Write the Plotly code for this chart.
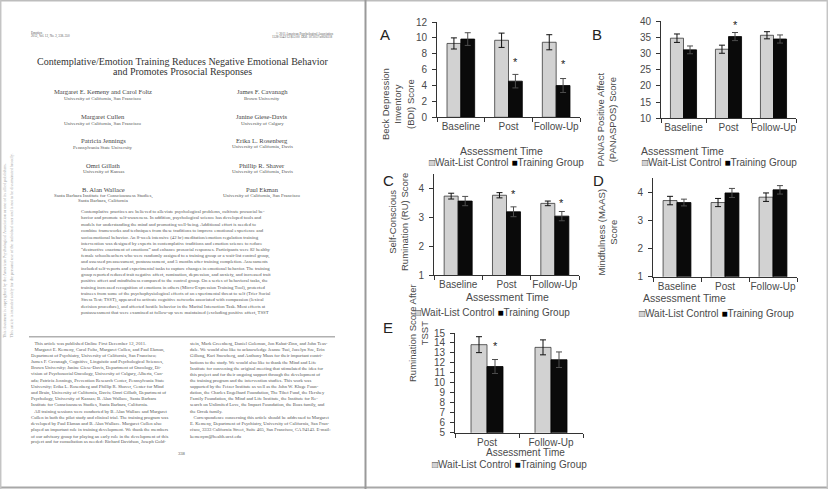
import plotly.graph_objects as go

W, H = 828, 489

# ---------------- data ----------------
cats3 = ["Baseline", "Post", "Follow-Up"]
cats2 = ["Post", "Follow-Up"]
series_names = ["Wait-List Control", "Training Group"]

bdi_control = [9.3, 9.7, 9.45]
bdi_control_err = [0.7, 0.9, 0.95]
bdi_training = [9.85, 4.55, 4.0]
bdi_training_err = [0.8, 0.85, 0.88]

panas_control = [34.7, 31.3, 35.6]
panas_control_err = [1.3, 1.25, 1.1]
panas_training = [31.1, 35.2, 34.45]
panas_training_err = [1.2, 1.25, 1.25]

ru_control = [3.72, 3.75, 3.47]
ru_control_err = [0.1, 0.09, 0.08]
ru_training = [3.55, 3.18, 3.03]
ru_training_err = [0.16, 0.17, 0.16]

maas_control = [3.70, 3.63, 3.82]
maas_control_err = [0.15, 0.145, 0.15]
maas_training = [3.63, 3.97, 4.08]
maas_training_err = [0.12, 0.16, 0.15]

tsst_control = [13.83, 13.56]
tsst_control_err = [0.8, 0.75]
tsst_training = [11.64, 12.32]
tsst_training_err = [0.7, 0.78]

# significance asterisks: (category index, height in data units)
bdi_stars = [(1, 7.2), (2, 7.0)]
panas_stars = [(1, 39.3)]
ru_stars = [(1, 3.87), (2, 3.56)]
maas_stars = [(1, 4.55), (2, 4.57)]
tsst_stars = [(0, 13.9)]

y_titles = [
    "Beck Depression<br>Inventory<br>(BDI) Score",
    "PANAS Positive Affect<br>(PANASPOS) Score",
    "Self-Conscious<br>Rumination (RU) Score",
    "Mindfulness (MAAS)<br>Score",
    "Rumination Score After<br>TSST",
]
panel_letters = ["A", "B", "C", "D", "E"]
x_title = "Assessment Time"

# ---------------- helpers ----------------
def px(x):
    return x / W

def py(y):
    return 1 - y / H

CTRL_FILL = "#d2d2d2"
TRAIN_FILL = "#0a0a0a"
TXT = "#4a4a4a"
SANS = "Liberation Sans, Arial, sans-serif"
SERIF = "Liberation Serif, Times New Roman, serif"

panels = [
    dict(cats=cats3, c=bdi_control, ce=bdi_control_err, t=bdi_training, te=bdi_training_err,
         stars=bdi_stars, xd=(437, 580), yd=(117.3, 22), yr=(0, 12), dt=2, bw=0.29,
         letter=(385, 24), ytit=(398, 66), xtit=(501, 143), leg=(427, 155)),
    dict(cats=cats3, c=panas_control, ce=panas_control_err, t=panas_training, te=panas_training_err,
         stars=panas_stars, xd=(661, 796), yd=(118.3, 21), yr=(10, 40), dt=5, bw=0.29,
         letter=(604, 24), ytit=(620, 71), xtit=(726, 143), leg=(640, 155)),
    dict(cats=cats3, c=ru_control, ce=ru_control_err, t=ru_training, te=ru_training_err,
         stars=ru_stars, xd=(434, 579), yd=(275, 173.5), yr=(1, 4.5), dt=1, bw=0.29,
         letter=(388, 181), ytit=(398, 222), xtit=(508, 297), leg=(413, 312)),
    dict(cats=cats3, c=maas_control, ce=maas_control_err, t=maas_training, te=maas_training_err,
         stars=maas_stars, xd=(653, 797), yd=(276.7, 178), yr=(1, 4.5), dt=1, bw=0.29,
         letter=(606, 181), ytit=(620, 232), xtit=(728, 298), leg=(637, 313)),
    dict(cats=cats2, c=tsst_control, ce=tsst_control_err, t=tsst_training, te=tsst_training_err,
         stars=tsst_stars, xd=(455, 583), yd=(432.7, 333), yr=(5, 15), dt=1, bw=0.25,
         letter=(388, 338), ytit=(418, 384), xtit=(525, 460), leg=(430, 471.5)),
]

fig = go.Figure()
annotations = []
layout_axes = {}

for i, p in enumerate(panels):
    n = i + 1
    xa = "x" if n == 1 else f"x{n}"
    ya = "y" if n == 1 else f"y{n}"
    xkey = "xaxis" if n == 1 else f"xaxis{n}"
    ykey = "yaxis" if n == 1 else f"yaxis{n}"
    bw = p["bw"]
    fig.add_trace(go.Bar(
        x=p["cats"], y=p["c"], name=series_names[0], xaxis=xa, yaxis=ya,
        width=bw, offset=-bw, showlegend=False, hoverinfo="skip",
        marker=dict(color=CTRL_FILL, line=dict(color="#3a3a3a", width=0.8)),
        error_y=dict(type="data", array=p["ce"], color="#111", thickness=1, width=3),
    ))
    fig.add_trace(go.Bar(
        x=p["cats"], y=p["t"], name=series_names[1], xaxis=xa, yaxis=ya,
        width=bw, offset=0, showlegend=False, hoverinfo="skip",
        marker=dict(color=TRAIN_FILL, line=dict(color="#000", width=0.8)),
        error_y=dict(type="data", array=p["te"], color="#4d4d4d", thickness=1, width=3),
    ))
    ncat = len(p["cats"])
    layout_axes[xkey] = dict(
        domain=[px(p["xd"][0]), px(p["xd"][1])], anchor=ya, type="category",
        range=[-0.5, ncat - 0.5], showline=True, linecolor="#333", linewidth=1,
        ticks="outside", ticklen=4, tickcolor="#333", tickson="boundaries",
        tickangle=0, automargin=False,
        showgrid=False, zeroline=False, fixedrange=True,
        tickfont=dict(family=SANS, size=10, color=TXT),
    )
    layout_axes[ykey] = dict(
        domain=[py(p["yd"][0]), py(p["yd"][1])], anchor=xa,
        range=list(p["yr"]), dtick=p["dt"], tick0=p["yr"][0],
        showline=True, linecolor="#333", linewidth=1,
        ticks="outside", ticklen=4, tickcolor="#333", automargin=False,
        showgrid=False, zeroline=False, fixedrange=True, ticklabelstandoff=3,
        tickfont=dict(family=SANS, size=10, color=TXT),
    )
    for ci, h in p["stars"]:
        annotations.append(dict(
            x=ci + bw / 2, y=h, xref=xa, yref=ya, text="*", showarrow=False,
            font=dict(family=SANS, size=11, color="#222222"), yshift=-2,
        ))
    annotations.append(dict(
        x=px(p["letter"][0]), y=py(p["letter"][1]), xref="paper", yref="paper",
        text=panel_letters[i], showarrow=False,
        font=dict(family=SANS, size=15, color="#222"),
    ))
    annotations.append(dict(
        x=px(p["ytit"][0]), y=py(p["ytit"][1]), xref="paper", yref="paper",
        text=y_titles[i], showarrow=False, textangle=-90,
        font=dict(family=SANS, size=9.5, color=TXT),
    ))
    annotations.append(dict(
        x=px(p["xtit"][0]), y=py(p["xtit"][1]), xref="paper", yref="paper",
        text=x_title, showarrow=False,
        font=dict(family=SANS, size=10.5 if n < 5 else 10, color=TXT),
    ))
    leg_text = (f"<span style='color:{CTRL_FILL}'>■</span>{series_names[0]} "
                f"<span style='color:#000'>■</span>{series_names[1]}")
    annotations.append(dict(
        x=px(p["leg"][0]), y=py(p["leg"][1]), xref="paper", yref="paper",
        text=leg_text, showarrow=False, xanchor="left",
        font=dict(family=SANS, size=10, color=TXT),
    ))
    annotations.append(dict(
        x=px(p["leg"][0]), y=py(p["leg"][1]), xref="paper", yref="paper",
        text="□", showarrow=False, xanchor="left",
        font=dict(family=SANS, size=10, color="#333"),
    ))

# ---------------- article page (left) ----------------
page_color = "#555"

def txt(x, y, s, size, color=page_color, anchor="center", family=SERIF, angle=0, yanchor="middle"):
    annotations.append(dict(
        x=px(x), y=py(y), xref="paper", yref="paper", text=s, showarrow=False,
        xanchor=anchor, yanchor=yanchor, textangle=angle,
        font=dict(family=family, size=size, color=color),
    ))

txt(29, 33, "Emotion", 3.2, anchor="left")
txt(29, 37, "2012, Vol. 12, No. 2, 338–350", 3.2, anchor="left")
txt(335, 33, "© 2011 American Psychological Association", 3.2, anchor="right")
txt(335, 37, "1528-3542/12/$12.00  DOI: 10.1037/a0026118", 3.2, anchor="right")

txt(182, 61, "Contemplative/Emotion Training Reduces Negative Emotional Behavior", 10, color="#333")
txt(182, 71.5, "and Promotes Prosocial Responses", 10, color="#333")

authors = [
    (92, "Margaret E. Kemeny and Carol Foltz", ["University of California, San Francisco"],
     "James F. Cavanagh", ["Brown University"]),
    (117, "Margaret Cullen", ["University of California, San Francisco"],
     "Janine Giese-Davis", ["University of Calgary"]),
    (140.5, "Patricia Jennings", ["Pennsylvania State University"],
     "Erika L. Rosenberg", ["University of California, Davis"]),
    (165, "Omri Gillath", ["University of Kansas"],
     "Phillip R. Shaver", ["University of California, Davis"]),
    (189, "B. Alan Wallace", ["Santa Barbara Institute for Consciousness Studies,", "Santa Barbara, California"],
     "Paul Ekman", ["University of California, San Francisco"]),
]
for y0, ln, laff, rn, raff in authors:
    txt(103, y0, ln, 6.6, color="#444")
    for k, a in enumerate(laff):
        txt(103, y0 + 6.5 + 5.5 * k, a, 4.9)
    txt(262, y0, rn, 6.6, color="#444")
    for k, a in enumerate(raff):
        txt(262, y0 + 6.5 + 5.5 * k, a, 4.9)

abstract = [
    "Contemplative practices are believed to alleviate psychological problems, cultivate prosocial be-",
    "havior and promote self-awareness. In addition, psychological science has developed tools and",
    "models for understanding the mind and promoting well-being. Additional effort is needed to",
    "combine frameworks and techniques from these traditions to improve emotional experience and",
    "socioemotional behavior. An 8-week intensive (42 hr) meditation/emotion regulation training",
    "intervention was designed by experts in contemplative traditions and emotion science to reduce",
    "“destructive enactment of emotions” and enhance prosocial responses. Participants were 82 healthy",
    "female schoolteachers who were randomly assigned to a training group or a wait-list control group,",
    "and assessed preassessment, postassessment, and 5 months after training completion. Assessments",
    "included self-reports and experimental tasks to capture changes in emotional behavior. The training",
    "group reported reduced trait negative affect, rumination, depression, and anxiety, and increased trait",
    "positive affect and mindfulness compared to the control group. On a series of behavioral tasks, the",
    "training increased recognition of emotions in others (Micro-Expression Training Tool), protected",
    "trainees from some of the psychophysiological effects of an experimental threat to self (Trier Social",
    "Stress Test; TSST), appeared to activate cognitive networks associated with compassion (lexical",
    "decision procedure), and affected hostile behavior in the Marital Interaction Task. Most effects at",
    "postassessment that were examined at follow-up were maintained (excluding positive affect, TSST",
]
for k, line in enumerate(abstract):
    txt(79, 212 + 6.3 * k, line, 4.75, anchor="left")

foot_left = [
    "   This article was published Online First December 12, 2011.",
    "   Margaret E. Kemeny, Carol Foltz, Margaret Cullen, and Paul Ekman,",
    "Department of Psychiatry, University of California, San Francisco;",
    "James F. Cavanagh, Cognitive, Linguistic and Psychological Sciences,",
    "Brown University; Janine Giese-Davis, Department of Oncology, Di-",
    "vision of Psychosocial Oncology, University of Calgary, Alberta, Can-",
    "ada; Patricia Jennings, Prevention Research Center, Pennsylvania State",
    "University; Erika L. Rosenberg and Phillip R. Shaver, Center for Mind",
    "and Brain, University of California, Davis; Omri Gillath, Department of",
    "Psychology, University of Kansas; B. Alan Wallace, Santa Barbara",
    "Institute for Consciousness Studies, Santa Barbara, California.",
    "   All training sessions were conducted by B. Alan Wallace and Margaret",
    "Cullen in both the pilot study and clinical trial. The training program was",
    "developed by Paul Ekman and B. Alan Wallace. Margaret Cullen also",
    "played an important role in training development. We thank the members",
    "of our advisory group for playing an early role in the development of this",
    "project and for consultation as needed: Richard Davidson, Joseph Gold-",
]
foot_right = [
    "stein, Mark Greenberg, Daniel Goleman, Jon Kabat-Zinn, and John Teas-",
    "dale. We would also like to acknowledge Jeanne Tsai, Jocelyn Sze, Erin",
    "Gillung, Kari Snowberg, and Anthony Maus for their important contri-",
    "butions to the study. We would also like to thank the Mind and Life",
    "Institute for convening the original meeting that stimulated the idea for",
    "this project and for their ongoing support through the development of",
    "the training program and the intervention studies. This work was",
    "supported by the Fetzer Institute as well as the John W. Kluge Foun-",
    "dation, the Charles Engelhard Foundation, The Tibet Fund, the Hershey",
    "Family Foundation, the Mind and Life Institute, the Institute for Re-",
    "search on Unlimited Love, the Impact Foundation, the Boas family, and",
    "the Orrok family.",
    "   Correspondence concerning this article should be addressed to Margaret",
    "E. Kemeny, Department of Psychiatry, University of California, San Fran-",
    "cisco, 3333 California Street, Suite 465, San Francisco, CA 94143. E-mail:",
    "kemenym@health.ucsf.edu",
]
for k, line in enumerate(foot_left):
    txt(29, 343.5 + 6.17 * k, line, 4.7, anchor="left")
for k, line in enumerate(foot_right):
    txt(188, 343.5 + 6.17 * k, line, 4.7, anchor="left")
txt(182, 453, "338", 4.6)

txt(4.5, 340, "This document is copyrighted by the American Psychological Association or one of its allied publishers.",
    4.2, color="#aaa", angle=-90, yanchor="bottom")
txt(10.5, 340, "This article is intended solely for the personal use of the individual user and is not to be disseminated broadly.",
    4.2, color="#aaa", angle=-90, yanchor="bottom")

# ---------------- page frame ----------------
def line(x0, y0, x1, y1, color, width):
    return dict(type="line", xref="paper", yref="paper", x0=px(x0), y0=py(y0), x1=px(x1), y1=py(y1),
                line=dict(color=color, width=width))

shapes = [
    line(0, 0.7, 828, 0.7, "#bdbdbd", 1.5),
    line(0, 487.5, 828, 487.5, "#a8a8a8", 2),
    line(0.7, 0, 0.7, 489, "#c4c4c4", 1.5),
    line(365.5, 0, 365.5, 489, "#9a9a9a", 2),
    line(827.3, 0, 827.3, 489, "#c4c4c4", 1.5),
    line(29, 336.7, 335, 336.7, "#b0b0b0", 1.5),
]

fig.update_layout(
    width=W, height=H, margin=dict(l=0, r=0, t=0, b=0, autoexpand=False),
    paper_bgcolor="white", plot_bgcolor="white",
    barmode="overlay", showlegend=False, hovermode=False,
    annotations=annotations, shapes=shapes,
    **layout_axes,
)

fig.write_html(
    "out.html",
    config={"displayModeBar": False, "staticPlot": True},
    post_script="document.body.style.margin='0';document.body.style.overflow='hidden';",
)
